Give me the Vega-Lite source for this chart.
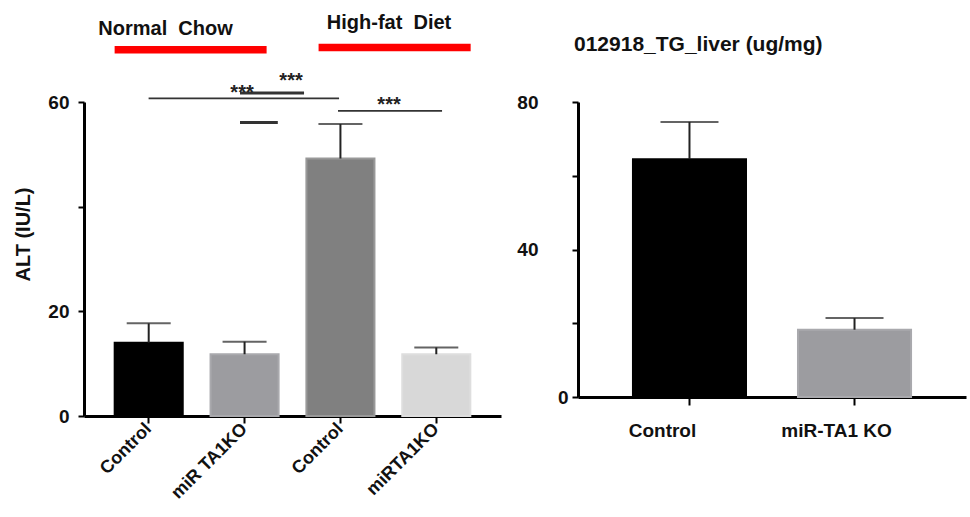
{
  "$schema": "https://vega.github.io/schema/vega-lite/v6.json",
  "background": "white",
  "padding": {"left": 13, "top": 12, "right": 5, "bottom": 5},
  "bounds": "flush",
  "spacing": 77,
  "config": {
    "view": {"stroke": null},
    "font": "Liberation Sans",
    "axis": {
      "domainColor": "#000000",
      "tickColor": "#000000",
      "labelColor": "#111111",
      "titleColor": "#111111",
      "labelFont": "Liberation Sans",
      "titleFont": "Liberation Sans",
      "labelFontWeight": "bold",
      "titleFontWeight": "bold",
      "grid": false
    }
  },
  "datasets": {
    "alt": [
      {"group": "NC Control", "mean": 14.0, "upper": 17.7},
      {"group": "NC KO", "mean": 11.8, "upper": 14.2},
      {"group": "HFD Control", "mean": 49.2, "upper": 55.8},
      {"group": "HFD KO", "mean": 11.8, "upper": 13.1}
    ],
    "tg": [
      {"group": "Control", "mean": 64.5, "upper": 74.6},
      {"group": "miR-TA1 KO", "mean": 18.25, "upper": 21.4}
    ],
    "redbars": [
      {"start": -0.355, "end": 1.233, "y": 70.0},
      {"start": 1.776, "end": 3.365, "y": 70.4}
    ],
    "dietlabels": [
      {"label": "Normal\u00a0 Chow", "x": 0.177, "y": 72.8},
      {"label": "High-fat\u00a0 Diet", "x": 2.512, "y": 74.0}
    ],
    "thinlines": [
      {"start": 0.0, "end": 1.99, "y": 60.7},
      {"start": 1.979, "end": 3.066, "y": 58.3}
    ],
    "thicklines": [
      {"start": 0.955, "end": 1.624, "y": 61.7},
      {"start": 0.955, "end": 1.35, "y": 56.1}
    ],
    "stars": [
      {"label": "***", "x": 0.976, "y": 60.5},
      {"label": "***", "x": 1.488, "y": 62.8},
      {"label": "***", "x": 2.512, "y": 58.2}
    ]
  },
  "hconcat": [
    {
      "width": 417,
      "height": 314,
      "layer": [
        {
          "data": {"name": "alt"},
          "encoding": {
            "x": {
              "field": "group",
              "type": "nominal",
              "sort": null,
              "scale": {"type": "band", "paddingInner": 0.29, "paddingOuter": 0.32},
              "axis": {
                "title": null,
                "labelAngle": -45,
                "labelAlign": "right",
                "labelBaseline": "middle",
                "labelFontSize": 18,
                "labelPadding": 3,
                "tickSize": 7,
                "tickWidth": 2,
                "domainWidth": 3,
                "labelExpr": "{'NC Control': 'Control', 'NC KO': 'miR TA1KO', 'HFD Control': 'Control', 'HFD KO': 'miRTA1KO'}[datum.value]"
              }
            }
          },
          "layer": [
            {
              "mark": {"type": "bar", "strokeWidth": 2},
              "encoding": {
                "y": {
                  "field": "mean",
                  "type": "quantitative",
                  "scale": {"domain": [0, 60], "nice": false},
                  "axis": {
                    "title": "ALT (IU/L)",
                    "values": [0, 20, 40, 60],
                    "labelExpr": "datum.value == 40 ? '' : datum.label",
                    "labelFontSize": 19,
                    "labelPadding": 9,
                    "tickSize": 6,
                    "tickWidth": 2,
                    "domainWidth": 3,
                    "titleFontSize": 20,
                    "titleX": -61,
                    "titleY": 132,
                    "titleAlign": "center",
                    "titleBaseline": "middle",
                    "titleAngle": -90
                  }
                },
                "fill": {
                  "field": "group",
                  "type": "nominal",
                  "legend": null,
                  "scale": {"domain": ["NC Control", "NC KO", "HFD Control", "HFD KO"], "range": ["#000000", "#9c9ca0", "#808080", "#d8d8d8"]}
                },
                "stroke": {
                  "field": "group",
                  "type": "nominal",
                  "legend": null,
                  "scale": {"domain": ["NC Control", "NC KO", "HFD Control", "HFD KO"], "range": ["#000000", "#a9a9ad", "#999999", "#dedede"]}
                }
              }
            },
            {
              "mark": {"type": "rule", "color": "#222222", "strokeWidth": 2},
              "encoding": {
                "y": {"field": "mean", "type": "quantitative"},
                "y2": {"field": "upper"}
              }
            },
            {
              "mark": {"type": "tick", "orient": "horizontal", "size": 44, "thickness": 2, "color": "#222222"},
              "encoding": {
                "y": {"field": "upper", "type": "quantitative"}
              }
            }
          ]
        },
        {
          "layer": [
            {
              "data": {"name": "redbars"},
              "mark": {"type": "rule", "color": "#ff0000", "strokeWidth": 7.5},
              "encoding": {
                "x": {"field": "start", "type": "quantitative", "scale": {"domain": [-0.675, 3.682], "nice": false, "zero": false}, "axis": null},
                "x2": {"field": "end"},
                "y": {"field": "y", "type": "quantitative"}
              }
            },
            {
              "data": {"name": "thinlines"},
              "mark": {"type": "rule", "color": "#333333", "strokeWidth": 1.6},
              "encoding": {
                "x": {"field": "start", "type": "quantitative"},
                "x2": {"field": "end"},
                "y": {"field": "y", "type": "quantitative"}
              }
            },
            {
              "data": {"name": "thicklines"},
              "mark": {"type": "rule", "color": "#333333", "strokeWidth": 3},
              "encoding": {
                "x": {"field": "start", "type": "quantitative"},
                "x2": {"field": "end"},
                "y": {"field": "y", "type": "quantitative"}
              }
            },
            {
              "data": {"name": "dietlabels"},
              "mark": {"type": "text", "fontSize": 20, "fontWeight": "bold", "color": "#111111", "baseline": "alphabetic", "align": "center"},
              "encoding": {
                "x": {"field": "x", "type": "quantitative"},
                "y": {"field": "y", "type": "quantitative"},
                "text": {"field": "label"}
              }
            },
            {
              "data": {"name": "stars"},
              "mark": {"type": "text", "fontSize": 20, "fontWeight": "bold", "color": "#222222", "baseline": "alphabetic", "align": "center"},
              "encoding": {
                "x": {"field": "x", "type": "quantitative"},
                "y": {"field": "y", "type": "quantitative"},
                "text": {"field": "label"}
              }
            }
          ]
        }
      ],
      "resolve": {"scale": {"x": "independent"}, "axis": {"x": "independent"}}
    },
    {
      "width": 388,
      "height": 295,
      "title": {
        "text": "012918_TG_liver (ug/mg)",
        "anchor": "start",
        "frame": "group",
        "baseline": "alphabetic",
        "offset": 21,
        "dx": -4,
        "fontSize": 21,
        "fontWeight": "bold",
        "font": "Liberation Sans",
        "color": "#111111"
      },
      "data": {"name": "tg"},
      "encoding": {
        "x": {
          "field": "group",
          "type": "nominal",
          "sort": null,
          "scale": {"type": "band", "paddingInner": 0.315, "paddingOuter": 0.333},
          "axis": {
            "title": null,
            "labelAngle": 0,
            "labelFontSize": 19,
            "labelPadding": 16,
            "labelOffset": {"condition": {"test": "datum.value === 'Control'", "value": -27}, "value": -18},
            "tickSize": 8,
            "tickWidth": 2,
            "domainWidth": 3
          }
        }
      },
      "layer": [
        {
          "mark": {"type": "bar", "strokeWidth": 2},
          "encoding": {
            "y": {
              "field": "mean",
              "type": "quantitative",
              "scale": {"domain": [0, 80], "nice": false},
              "axis": {
                "title": null,
                "values": [0, 20, 40, 60, 80],
                "labelExpr": "(datum.value == 20 || datum.value == 60) ? '' : datum.label",
                "labelFontSize": 19,
                "labelPadding": {"condition": {"test": "datum.value === 0", "value": 4}, "value": 34},
                "tickSize": 6,
                "tickWidth": 2,
                "domainWidth": 3
              }
            },
            "fill": {
              "field": "group",
              "type": "nominal",
              "legend": null,
              "scale": {"domain": ["Control", "miR-TA1 KO"], "range": ["#000000", "#a0a0a4"]}
            },
            "stroke": {
              "field": "group",
              "type": "nominal",
              "legend": null,
              "scale": {"domain": ["Control", "miR-TA1 KO"], "range": ["#000000", "#acacb0"]}
            }
          }
        },
        {
          "mark": {"type": "rule", "color": "#222222", "strokeWidth": 2},
          "encoding": {
            "y": {"field": "mean", "type": "quantitative"},
            "y2": {"field": "upper"}
          }
        },
        {
          "mark": {"type": "tick", "orient": "horizontal", "size": 58, "thickness": 2, "color": "#222222"},
          "encoding": {
            "y": {"field": "upper", "type": "quantitative"}
          }
        }
      ]
    }
  ]
}
